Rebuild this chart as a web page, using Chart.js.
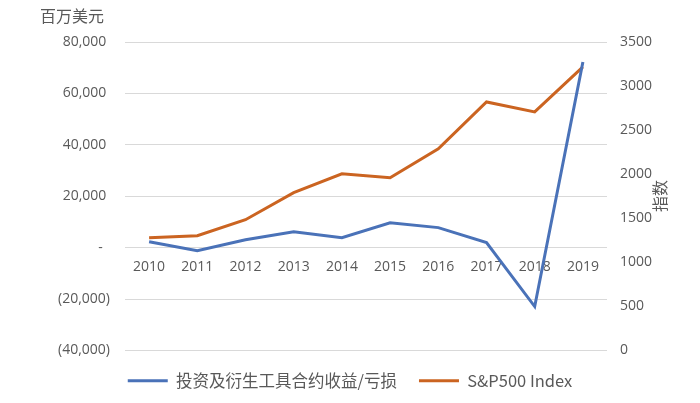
<!DOCTYPE html>
<html><head><meta charset="utf-8">
<script src="https://cdn.jsdelivr.net/npm/chart.js@4"></script>
<style>html,body{margin:0;padding:0;background:#fff}</style>
</head><body>
<canvas id="c" width="700" height="403" style="width:700px;height:403px;display:block"></canvas>
<script>
const years = ['2010','2011','2012','2013','2014','2015','2016','2017','2018','2019'];
const derivativeGains = [2300, -1200, 3100, 6200, 3900, 9700, 7800, 1950, -22900, 72200];
const sp500Index = [1280, 1302, 1484, 1790, 2005, 1960, 2288, 2820, 2707, 3217];
const seriesNames = ['投资及衍生工具合约收益/亏损', 'S&P500 Index'];
const leftAxisTitle = '百万美元';
const rightAxisTitle = '指数';

const TEXT = '#595959';
const BLUE = '#4A72B8';
const ORANGE = '#CB6421';
const NUM_FONT = { family: 'Open Sans', size: 14 };

function acct(v) {
  if (v === 0) return '-  ';
  const s = Math.abs(v).toLocaleString('en-US');
  return v < 0 ? '(' + s + ')' : s + ' ';
}

const axisTitles = {
  id: 'axisTitles',
  afterDraw(chart) {
    const ctx = chart.ctx;
    ctx.save();
    ctx.fillStyle = TEXT;
    ctx.font = '16px "Noto Sans CJK SC"';
    ctx.textBaseline = 'middle';
    ctx.textAlign = 'left';
    ctx.fillText(leftAxisTitle, 40, 16);
    ctx.translate(660, 196);
    ctx.rotate(-Math.PI / 2);
    ctx.textAlign = 'center';
    ctx.fillText(rightAxisTitle, 0, 0);
    ctx.restore();
  }
};

new Chart(document.getElementById('c'), {
  type: 'line',
  data: {
    labels: years,
    datasets: [
      { label: seriesNames[0], data: derivativeGains, yAxisID: 'y', borderColor: BLUE, backgroundColor: BLUE, borderWidth: 3, pointRadius: 0, tension: 0 },
      { label: seriesNames[1], data: sp500Index, yAxisID: 'y1', borderColor: ORANGE, backgroundColor: ORANGE, borderWidth: 3, pointRadius: 0, tension: 0 }
    ]
  },
  options: {
    responsive: false,
    animation: false,
    devicePixelRatio: 1,
    layout: { padding: { top: 42, left: 0, right: 0, bottom: 4 } },
    plugins: {
      tooltip: { enabled: false },
      legend: {
        position: 'bottom',
        labels: {
          usePointStyle: true,
          pointStyle: 'line',
          pointStyleWidth: 40,
          boxHeight: 3,
          padding: 22,
          color: TEXT,
          font: { family: '"Noto Sans CJK SC"', size: 16.5 }
        }
      }
    },
    scales: {
      x: {
        type: 'category',
        position: { y: 0 },
        offset: true,
        grid: { display: false, drawTicks: false },
        border: { display: false },
        ticks: { color: TEXT, font: NUM_FONT, padding: 11, maxRotation: 0 }
      },
      y: {
        position: 'left',
        min: -40000, max: 80000,
        ticks: { stepSize: 20000, color: TEXT, font: NUM_FONT, padding: 15, callback: v => acct(v) },
        grid: { color: '#D9D9D9', lineWidth: 1, drawTicks: false },
        border: { display: false },
        afterFit(s) { s.width = 125; }
      },
      y1: {
        position: 'right',
        min: 0, max: 3500,
        ticks: { stepSize: 500, color: TEXT, font: NUM_FONT, padding: 13, callback: v => String(v) },
        grid: { display: false, drawTicks: false },
        border: { display: false },
        afterFit(s) { s.width = 93; }
      }
    }
  },
  plugins: [axisTitles]
});
</script>
</body></html>
